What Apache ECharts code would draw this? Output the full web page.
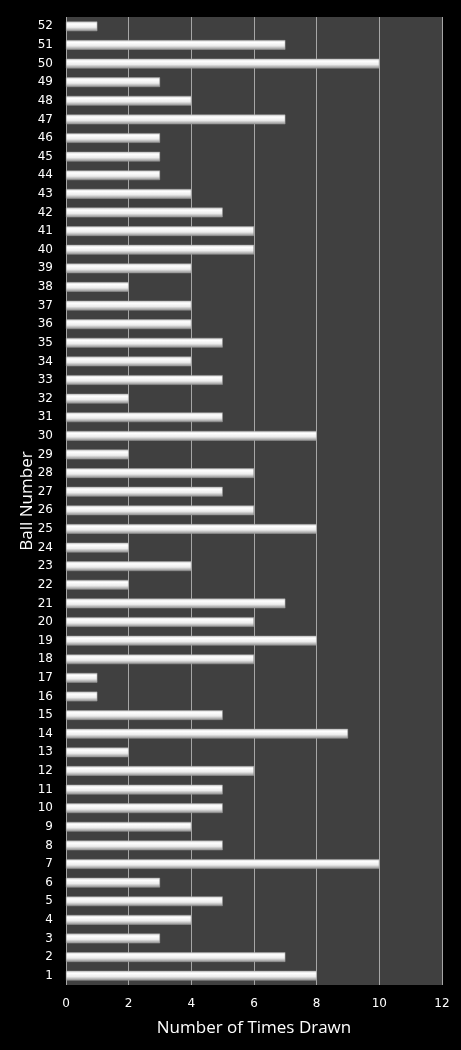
<!DOCTYPE html>
<html>
<head>
<meta charset="utf-8">
<script src="https://cdn.jsdelivr.net/npm/echarts@6/dist/echarts.min.js"></script>
<style>
  html, body { margin: 0; padding: 0; background: #000; }
  #chart { width: 461px; height: 1050px; }
</style>
</head>
<body>
<div id="chart"></div>
<script>
var ballNumbers = [];
for (var i = 1; i <= 52; i++) ballNumbers.push(String(i));

// times drawn, ball 1 .. ball 52
var timesDrawn = [
  8, 7, 3, 4, 5, 3, 10, 5, 4, 5,
  5, 6, 2, 9, 5, 1, 1, 6, 8, 6,
  7, 2, 4, 2, 8, 6, 5, 6, 2, 8,
  5, 2, 5, 4, 5, 4, 4, 2, 4, 6,
  6, 5, 4, 3, 3, 3, 7, 4, 3, 10,
  7, 1
];

var xTicks = [0, 2, 4, 6, 8, 10, 12];

var myChart = echarts.init(document.getElementById('chart'));

var barStyle = {
    color: new echarts.graphic.LinearGradient(0, 0, 0, 1, [
        {offset: 0, color: '#d0d0d0'},
        {offset: 0.25, color: '#ffffff'},
        {offset: 0.6, color: '#ececec'},
        {offset: 1, color: '#8c8c8c'}
    ]),
    borderColor: '#a0a0a0',
    borderWidth: 0.5
};

var option = {
    backgroundColor: '#000000',
    animation: false,
    grid: {
        left: 66, right: 19, top: 17, bottom: 65,
        show: true,
        backgroundColor: '#404040',
        borderWidth: 0
    },
    xAxis: {
        type: 'value',
        min: xTicks[0],
        max: xTicks[xTicks.length - 1],
        interval: 2,
        name: 'Number of Times Drawn',
        nameLocation: 'middle',
        nameGap: 35,
        nameTextStyle: {color: '#ffffff', fontSize: 17, fontFamily: 'Open Sans'},
        axisLine: {show: false},
        axisTick: {show: false},
        axisLabel: {color: '#ffffff', fontSize: 12, fontFamily: 'DejaVu Sans', margin: 13},
        splitLine: {show: true, lineStyle: {color: '#a6a6a6', width: 1}}
    },
    yAxis: {
        type: 'category',
        data: ballNumbers,
        axisLine: {show: false},
        axisTick: {show: false},
        axisLabel: {color: '#ffffff', fontSize: 12, fontFamily: 'DejaVu Sans', margin: 13, interval: 0},
        splitLine: {show: false}
    },
    graphic: [
        {
            type: 'text',
            x: 27,
            y: 501,
            rotation: Math.PI / 2,
            style: {
                text: 'Ball Number',
                fill: '#ffffff',
                font: '17px "Open Sans"',
                textAlign: 'center',
                textVerticalAlign: 'middle'
            }
        }
    ],
    series: [
        {
            type: 'bar',
            name: 'Times Drawn',
            data: timesDrawn,
            barWidth: '52%',
            itemStyle: barStyle
        }
    ]
};

myChart.setOption(option);
</script>
</body>
</html>
